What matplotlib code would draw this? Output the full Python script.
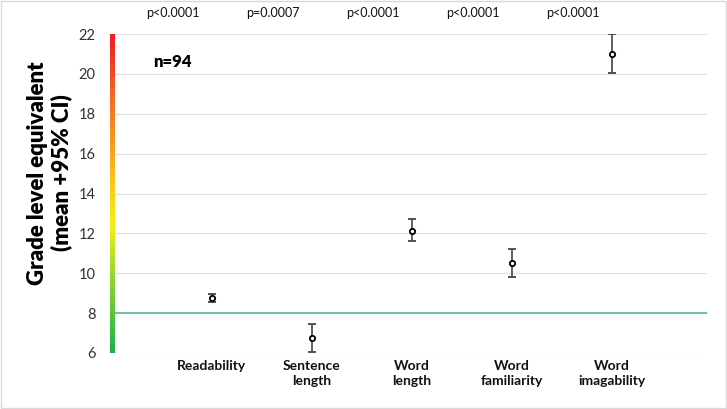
import matplotlib
matplotlib.use("Agg")
import matplotlib.pyplot as plt
import numpy as np
from matplotlib.colors import LinearSegmentedColormap
from matplotlib.patches import Rectangle

categories = ["Readability", "Sentence\nlength", "Word\nlength", "Word\nfamiliarity", "Word\nimagability"]
means = [8.75, 6.75, 12.1, 10.5, 21.0]
ci_low = [8.55, 6.07, 11.6, 9.83, 20.03]
ci_high = [8.95, 7.45, 12.7, 11.2, 22.0]
p_values = ["p<0.0001", "p=0.0007", "p<0.0001", "p<0.0001", "p<0.0001"]
yticks = [6, 8, 10, 12, 14, 16, 18, 20, 22]
threshold = 8

plt.rcParams['font.family'] = ['Lato', 'DejaVu Sans']

fig = plt.figure(figsize=(7.27, 4.09), dpi=100)
ax = fig.add_axes([112/727, 1 - 353/409, (707-112)/727, (353-34)/409])

x = np.arange(1, len(categories) + 1)
yerr = [np.array(means) - np.array(ci_low), np.array(ci_high) - np.array(means)]
ax.errorbar(x, means, yerr=yerr, fmt='o', ms=3.8, mfc='white', mec='black', mew=1.3,
            ecolor='#444444', elinewidth=1.2, capsize=3, capthick=1.0, zorder=3)

ax.axhline(threshold, color='#5cb88a', lw=1.2, zorder=2)

ax.set_xlim(0, 5.95)
ax.set_ylim(6, 22)
ax.set_yticks(yticks)
ax.grid(axis='y', color='#e0e0e0', lw=0.8, zorder=0)
ax.set_axisbelow(True)
for s in ax.spines.values():
    s.set_visible(False)
ax.tick_params(axis='y', length=0, labelsize=10.5, labelcolor='#333333', pad=12)
ax.set_xticks(x)
ax.set_xticklabels(categories, fontsize=10, fontweight='bold', color='#111111', linespacing=1.3)
ax.tick_params(axis='x', length=0, pad=5)

ax.set_ylabel("Grade level equivalent\n(mean +95% CI)", fontsize=16, fontweight='heavy',
              linespacing=1.15)
ax.yaxis.set_label_coords(-0.067, 0.564)

for xi, p in zip(x, p_values):
    ax.text(xi - 0.39, 1.0 + 21/319, p, transform=ax.get_xaxis_transform(),
            ha='center', va='center', fontsize=9, color='#111111')

ax.text(0.41, 20.6, "n=94", fontsize=12, fontweight='heavy', ha='left', va='center')

# gradient bar
cmap = LinearSegmentedColormap.from_list('g', [(0, '#1db14b'), (0.3, '#b6df2c'), (0.4, '#f5ef16'),
                                               (0.6, '#f7b21f'), (0.8, '#f36a25'), (1.0, '#ed1c24')])
bax = fig.add_axes([110/727, 1 - 353/409, 5/727, (353-34)/409])
grad = np.linspace(0, 1, 256).reshape(-1, 1)
bax.imshow(grad, aspect='auto', cmap=cmap, origin='lower', extent=[0, 1, 0, 1])
bax.set_axis_off()

fig.patches.append(Rectangle((0.001, 0.002), 0.997, 0.996, transform=fig.transFigure,
                             fill=False, ec='#d9d9d9', lw=1))

fig.savefig("out.png", dpi=100)
